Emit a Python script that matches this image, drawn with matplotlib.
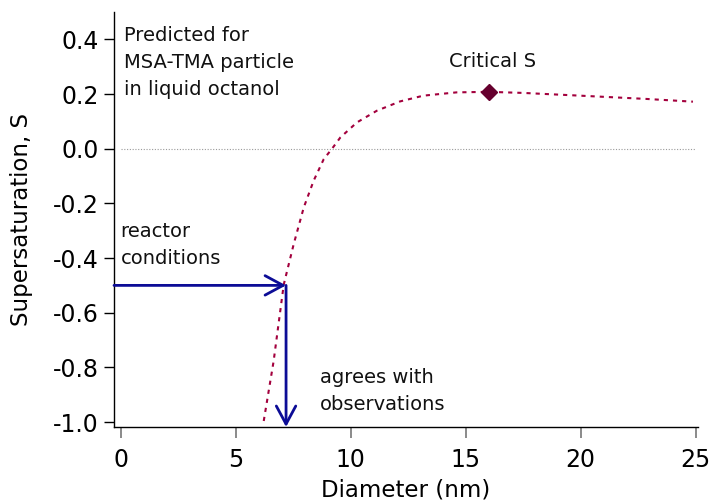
import matplotlib
matplotlib.use("Agg")
import matplotlib.pyplot as plt

# Predicted supersaturation curve (Koehler-type) vs particle diameter
diameter_nm = [6.22, 6.65, 7.09, 7.52, 7.96, 8.39, 8.83, 9.19, 9.55, 10.27,
               11.14, 12.15, 13.16, 14.6, 16.0, 17.5, 19.97, 22.86, 24.88]
supersat = [-0.996, -0.777, -0.497, -0.35, -0.215, -0.117, -0.038, 0.0, 0.041, 0.096,
            0.139, 0.173, 0.194, 0.206, 0.208, 0.204, 0.194, 0.182, 0.172]

# critical point (maximum of the curve)
crit_d = 16.0
crit_s = 0.208

# reactor conditions and resulting diameter
reactor_s = -0.5
reactor_d = 7.19

x_ticks = [0, 5, 10, 15, 20, 25]
y_ticks = [0.4, 0.2, 0.0, -0.2, -0.4, -0.6, -0.8, -1.0]

plt.rcParams["font.family"] = "DejaVu Sans"
plt.rcParams["axes.unicode_minus"] = False

fig = plt.figure(figsize=(7.15, 5.03), dpi=100)
ax = fig.add_axes([114 / 715, 76 / 503, 584 / 715, 415 / 503])

xmin, xmax = -0.29, 25.1
ymin, ymax = -1.018, 0.5
ax.set_xlim(xmin, xmax)
ax.set_ylim(ymin, ymax)

# zero reference line
ax.hlines(0, x_ticks[0], x_ticks[-1], colors="#9a9a9a", linewidth=0.8,
          linestyles=(0, (1, 1.5)))

curve_col = "#a3003d"
ax.plot(diameter_nm, supersat, color=curve_col, linewidth=1.5,
        dashes=(2, 2.4), solid_capstyle="butt")
ax.plot([crit_d], [crit_s], marker="D", markersize=8, color="#66002e",
        linestyle="none")

arrow_col = "#0c0c96"
arrow_kw = dict(arrowstyle="->,head_length=0.65,head_width=0.35",
                mutation_scale=20, color=arrow_col, linewidth=2,
                shrinkA=0, shrinkB=0)
ax.annotate("", xy=(reactor_d, reactor_s), xytext=(xmin, reactor_s),
            arrowprops=arrow_kw)
ax.annotate("", xy=(reactor_d, ymin), xytext=(reactor_d, reactor_s),
            arrowprops=arrow_kw)

# multi-line labels are anchored on the baseline of their last line
txt = dict(fontsize=14, color="#111111", linespacing=1.55)
ax.text(0.14, 0.1956, "Predicted for\nMSA-TMA particle\nin liquid octanol",
        va="baseline", ha="left", **txt)
ax.text(0.0, -0.421, "reactor\nconditions", va="baseline", ha="left", **txt)
ax.text(8.66, -0.957, "agrees with\nobservations", va="baseline", ha="left", **txt)
ax.text(crit_d + 0.17, 0.2994, "Critical S", va="baseline", ha="center", **txt)

ax.spines["top"].set_visible(False)
ax.spines["right"].set_visible(False)
ax.spines["left"].set_linewidth(1.0)
ax.spines["bottom"].set_linewidth(1.0)

ax.set_xticks(x_ticks)
ax.set_yticks(y_ticks)
ax.set_yticklabels([f"{v:.1f}" for v in y_ticks])
ax.tick_params(axis="x", direction="out", length=8, width=1.2, color="#777777",
               labelsize=17, pad=7)
ax.tick_params(axis="y", direction="out", length=7, width=1, color="black",
               labelsize=17, pad=4)

ax.set_xlabel("Diameter (nm)", fontsize=16.5, labelpad=5)
ax.set_ylabel("Supersaturation, S", fontsize=16.5, labelpad=14)

fig.savefig("out.png", dpi=100)
